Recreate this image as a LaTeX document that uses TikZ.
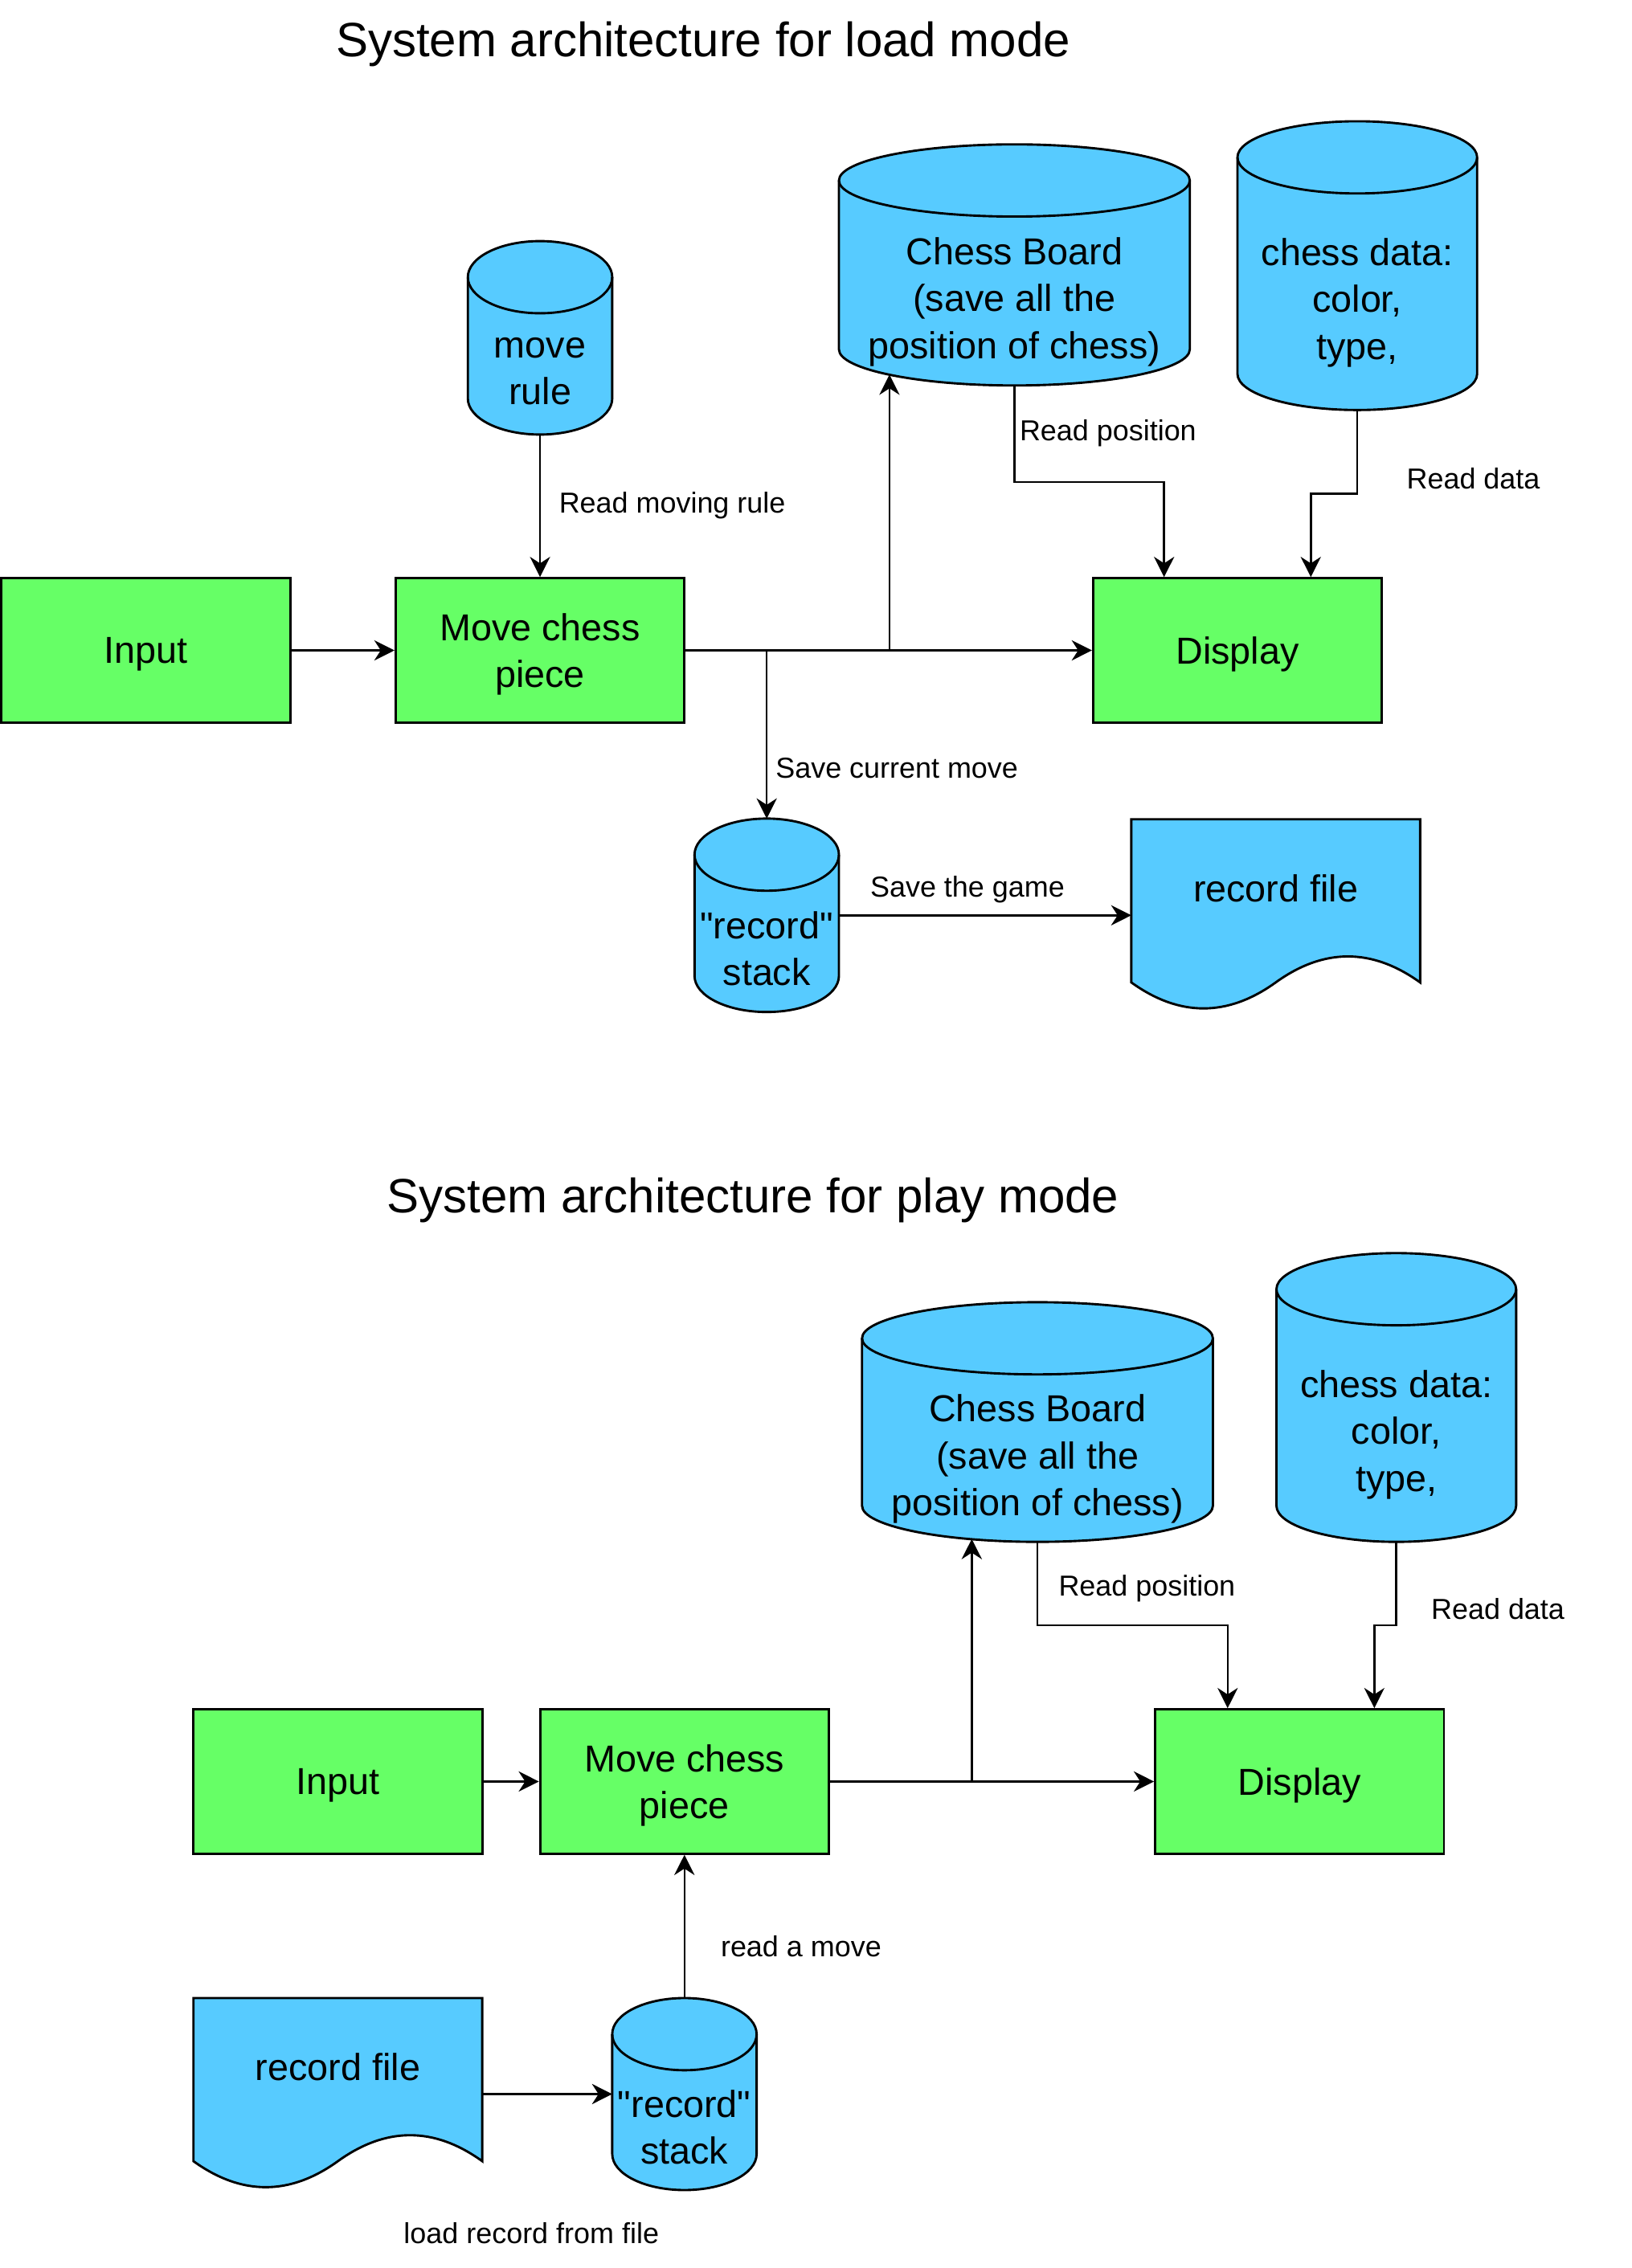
\documentclass[tikz,border=0pt]{standalone}
\usepackage{fontspec}
\setmainfont{Liberation Sans}
\usetikzlibrary{arrows.meta,calc}
\definecolor{boxgreen}{HTML}{66FF66}
\definecolor{drumblue}{HTML}{57CBFF}
\tikzset{
    box/.style={draw, line width=1.6pt, fill=boxgreen, minimum width=200pt, minimum height=100pt, inner sep=0pt, text depth=0pt, font=\fontsize{26}{32.5}\selectfont, align=center},
    drumnode/.style={inner sep=0pt, outer sep=0pt},
    drumline/.style={draw, line width=1.6pt, fill=drumblue},
    drumtext/.style={inner sep=0pt, text depth=0pt, font=\fontsize{26}{32.5}\selectfont, align=center},
    arr/.style={line width=1.4pt, -{Stealth[length=14pt, width=14pt, inset=4.5pt]}},
    lbl/.style={inner sep=0pt, text depth=0pt, font=\fontsize{20}{24}\selectfont},
    ttl/.style={inner sep=0pt, anchor=base, font=\fontsize{33.4}{40}\selectfont}
}
% cylinder: name, centre, width, height, text
\newcommand{\drum}[5]{%
    \node [drumnode, minimum width=#3pt, minimum height=#4pt] (#1) at (#2) {};
    \filldraw [drumline] ([yshift=-25pt]#1.north west) arc [start angle=180, end angle=0, x radius=#3pt/2, y radius=25pt]
        -- ([yshift=25pt]#1.south east) arc [start angle=0, end angle=-180, x radius=#3pt/2, y radius=25pt] -- cycle;
    \draw [drumline, fill=none] ([yshift=-25pt]#1.north west) arc [start angle=180, end angle=360, x radius=#3pt/2, y radius=25pt];
    \node [drumtext] (#1-text) at ([yshift=-23pt]#1.center) {#5};
}
% document shape: name, centre, text
\newcommand{\recfile}[3]{%
    \node [drumnode, minimum width=200pt, minimum height=133pt] (#1) at (#2) {};
    \filldraw [drumline] (#1.north west) -- (#1.north east) -- ([yshift=20pt]#1.south east)
        .. controls ([xshift=-33.3pt, yshift=44pt]#1.south east) and ([xshift=33.3pt, yshift=44pt]#1.south) .. ([yshift=20pt]#1.south)
        .. controls ([xshift=-33.3pt, yshift=-4pt]#1.south) and ([xshift=33.3pt, yshift=-4pt]#1.south west) .. ([yshift=20pt]#1.south west) -- cycle;
    \node [drumtext] (#1-text) at ([yshift=19pt]#1.center) {#3};
}
\begin{document}
\begin{tikzpicture}[x=1pt, y=1pt]
    \useasboundingbox (0,0) rectangle (1130,-1571);
    % load mode
    \node [ttl] (title1) at (487,-39) {System architecture for load mode};
    \node [box] (input) at (101,-450.5) {Input};
    \node [box] (move) at (374,-450.5) {Move chess\\piece};
    \node [box] (display) at (857,-450.5) {Display};
    \drum{rule}{374,-234}{100}{134}{move\\rule}
    \drum{board}{702.5,-183.5}{243}{167}{Chess Board\\(save all the\\position of chess)}
    \drum{data}{940,-184}{166}{200}{chess data:\\color,\\type,}
    \drum{stack}{531,-634}{100}{134}{\textquotedbl record\textquotedbl\\stack}
    \recfile{file}{883.5,-634}{record file}
    \coordinate (upfork) at (616,-450.5);
    \coordinate (downfork) at (move.east -| stack.north);
    \coordinate (boardin) at ($(board.south)+(-86.5,7.5)$);
    \draw [arr] (input) -- (move);
    \draw [arr] (rule) -- (move);
    \draw [arr] (move) -- (display);
    \draw [arr] (upfork) -- (boardin);
    \draw [arr] (downfork) -- (stack.north);
    \draw [arr] (board.south) -- ++(0,-67) -| ([xshift=50pt]display.north west);
    \draw [arr] (data.south) -- ++(0,-58) -| ([xshift=-50pt]display.north east);
    \draw [arr] (stack) -- (file);
    \node [lbl, anchor=west] (lrule) at (387,-348) {Read moving rule};
    \node [lbl, anchor=west] (lpos) at (706,-298) {Read position};
    \node [lbl, anchor=west] (ldata) at (974,-331.5) {Read data};
    \node [lbl, anchor=west] (lsave) at (537,-532) {Save current move};
    \node [lbl] (lgame) at (670,-614) {Save the game};
    % play mode
    \node [ttl] (title2) at (521.5,-840) {System architecture for play mode};
    \node [box] (input2) at (234,-1234) {Input};
    \node [box] (move2) at (474,-1234) {Move chess\\piece};
    \node [box] (display2) at (900,-1234) {Display};
    \drum{board2}{718.5,-985}{243}{166}{Chess Board\\(save all the\\position of chess)}
    \drum{data2}{967,-968}{166}{200}{chess data:\\color,\\type,}
    \drum{stack2}{474,-1450.5}{100}{133}{\textquotedbl record\textquotedbl\\stack}
    \recfile{file2}{234,-1450.5}{record file}
    \coordinate (upfork2) at (673,-1234);
    \coordinate (board2in) at ($(board2.south)+(-45.5,2)$);
    \draw [arr] (input2) -- (move2);
    \draw [arr] (move2) -- (display2);
    \draw [arr] (upfork2) -- (board2in);
    \draw [arr] (board2.south) -- ++(0,-57.7) -| ([xshift=51pt]display2.north west);
    \draw [arr] (data2.south) -- ++(0,-57.7) -| ([xshift=-49pt]display2.north east);
    \draw [arr] (stack2) -- (move2);
    \draw [arr] (file2) -- (stack2);
    \node [lbl, anchor=west] (lpos2) at (733,-1098.5) {Read position};
    \node [lbl, anchor=west] (ldata2) at (991,-1114.5) {Read data};
    \node [lbl, anchor=west] (lread2) at (499,-1348) {read a move};
    \node [lbl] (lload2) at (368,-1547) {load record from file};
\end{tikzpicture}
\end{document}
